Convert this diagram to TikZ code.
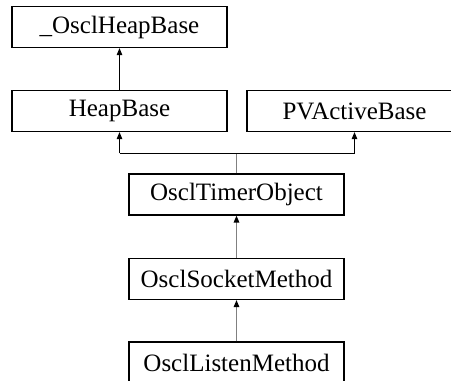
\documentclass[tikz,border=0pt]{standalone}
\usepackage{fontspec}
\setmainfont{Liberation Serif}
\usepackage{tikz}
\usetikzlibrary{arrows.meta, positioning}
\definecolor{StemGray}{RGB}{128, 128, 128}
\tikzset{
  classbox/.style={draw=black, line width=1.2pt, fill=white, minimum width=215pt,
    minimum height=41pt, inner sep=0pt, font=\fontsize{25}{30}\selectfont},
  inherit/.style={draw=black, line width=0.9pt, -{Triangle[length=7pt, width=5.5pt]}},
  stem/.style={draw=StemGray, line width=1.3pt},
  stemarrow/.style={stem, -{Triangle[length=7pt, width=5.5pt, fill=black, color=black]}},
  bar/.style={draw=black, line width=0.9pt}
}

\begin{document}
\begin{tikzpicture}[x=1pt, y=-1pt]
  \useasboundingbox (0,0) rectangle (451,381);
  \clip (0,0) rectangle (451,381);
  \node[classbox] (oheap) at (119.5,27) {\_OsclHeapBase};
  \node[classbox] (heap) at (119.5,111) {HeapBase};
  \node[classbox] (pvab) at (354.5,111) {PVActiveBase};
  \node[classbox] (timer) at (236.5,194.5) {OsclTimerObject};
  \node[classbox] (socket) at (236.5,279) {OsclSocketMethod};
  \node[classbox] (listen) at (236.5,362.5) {OsclListenMethod};
  \coordinate (junc) at (236.5,153);

  \draw[inherit] (heap.north) -- (oheap.south);
  \draw[stem] (timer.north) -- (junc);
  \draw[bar] (junc -| heap.south) -- (junc -| pvab.south);
  \draw[inherit] (junc -| heap.south) -- (heap.south);
  \draw[inherit] (junc -| pvab.south) -- (pvab.south);
  \draw[stemarrow] (socket.north) -- (timer.south);
  \draw[stemarrow] (listen.north) -- (socket.south);
\end{tikzpicture}
\end{document}
